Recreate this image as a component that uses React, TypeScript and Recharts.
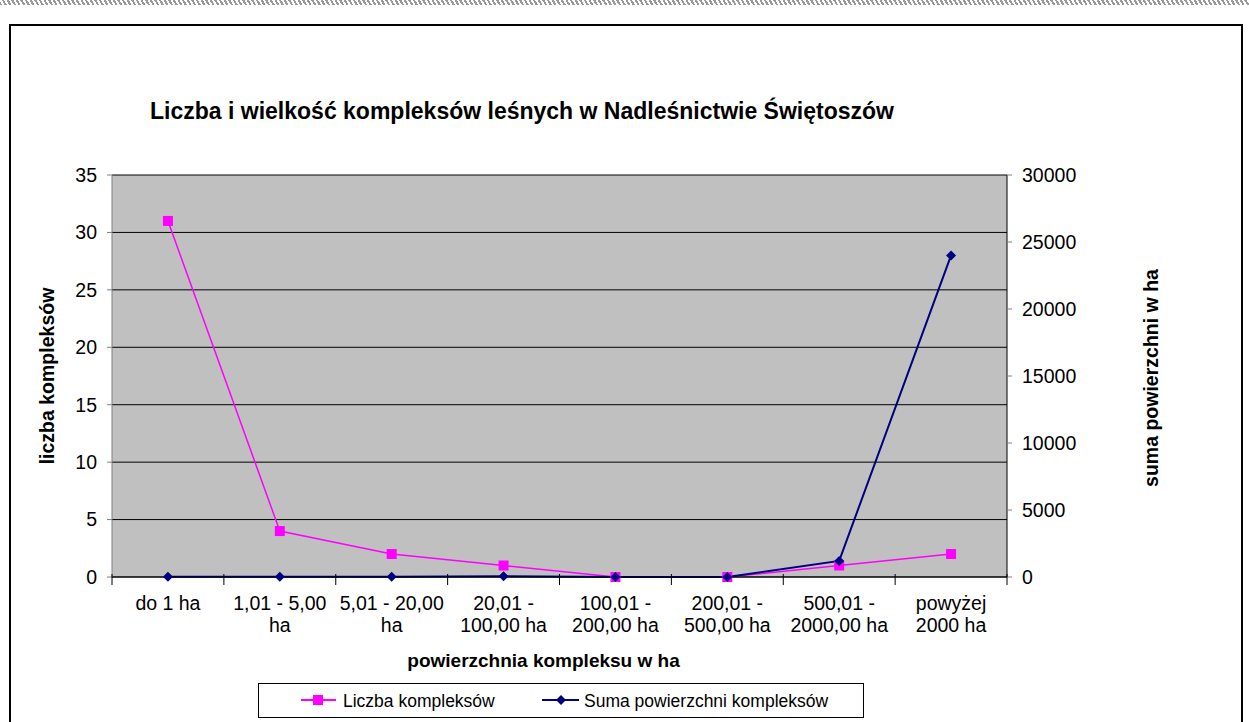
import React from 'react';
import { LineChart, Line, XAxis, YAxis, CartesianGrid } from 'recharts';

// kategorie powierzchni kompleksów
const categories = [
  'do 1 ha',
  '1,01 - 5,00\nha',
  '5,01 - 20,00\nha',
  '20,01 -\n100,00 ha',
  '100,01 -\n200,00 ha',
  '200,01 -\n500,00 ha',
  '500,01 -\n2000,00 ha',
  'powyżej\n2000 ha',
];
const liczbaKompleksow = [31, 4, 2, 1, 0, 0, 1, 2];
const sumaPowierzchni = [15, 10, 25, 50, 0, 0, 1200, 24000];
const leftTicks = [0, 5, 10, 15, 20, 25, 30, 35];
const rightTicks = [0, 5000, 10000, 15000, 20000, 25000, 30000];

const FONT = 'Arial, "Liberation Sans", sans-serif';
const PINK = '#ff00ff';
const NAVY = '#000080';
const BAND = 895 / categories.length;

const data = categories.map((cat, i) => ({
  cat,
  liczba: liczbaKompleksow[i],
  suma: sumaPowierzchni[i],
}));

const SquareDot = (props: any) => {
  const { cx, cy } = props;
  if (cx == null || cy == null) return null;
  return <rect x={cx - 5} y={cy - 5} width={10} height={10} fill={PINK} />;
};

const DiamondDot = (props: any) => {
  const { cx, cy } = props;
  if (cx == null || cy == null) return null;
  return <polygon points={`${cx},${cy - 5} ${cx + 5},${cy} ${cx},${cy + 5} ${cx - 5},${cy}`} fill={NAVY} />;
};

const XTick = (props: any) => {
  const { x, y, payload, index } = props;
  const lines = String(payload.value).split('\n');
  return (
    <g>
      <line x1={x - BAND / 2} y1={y - 5} x2={x - BAND / 2} y2={y + 6} stroke="#000" />
      {index === categories.length - 1 && (
        <line x1={x + BAND / 2} y1={y - 5} x2={x + BAND / 2} y2={y + 6} stroke="#000" />
      )}
      <text x={x} y={y + 31} textAnchor="middle" fontSize={19.5} fontFamily={FONT} fill="#000">
        {lines.map((l, i) => (
          <tspan key={i} x={x} dy={i === 0 ? 0 : 22}>{l}</tspan>
        ))}
      </text>
    </g>
  );
};

const LegendBox = () => (
  <div
    style={{
      position: 'absolute', left: 258, top: 683,
      width: 604, height: 33,
      border: '1px solid #000',
      background: '#fff',
    }}
  >
    <svg width={604} height={33} style={{ position: 'absolute', left: 0, top: 0 }}>
      <line x1={42} y1={16} x2={77} y2={16} stroke={PINK} strokeWidth={2} />
      <rect x={54} y={11} width={10} height={10} fill={PINK} />
      <text x={84} y={23} fontSize={17.5} fontFamily={FONT} fill="#000">Liczba kompleksów</text>
      <line x1={283} y1={16} x2={320} y2={16} stroke={NAVY} strokeWidth={2} />
      <polygon points="302,11 307,16 302,21 297,16" fill={NAVY} />
      <text x={325} y={23} fontSize={17.5} fontFamily={FONT} fill="#000">Suma powierzchni kompleksów</text>
    </svg>
  </div>
);

export default function App() {
  return (
    <div style={{ position: 'absolute', left: 0, top: 0, width: 1249, height: 722, background: '#fff', overflow: 'hidden', fontFamily: FONT }}>
      {/* pasek u góry */}
      <div
        style={{
          position: 'absolute', left: 0, top: 0, width: 1249, height: 5,
          background: 'repeating-linear-gradient(60deg, #999 0px, #999 2px, #fff 2px, #fff 4px)',
        }}
      />
      {/* ramka wykresu */}
      <div style={{ position: 'absolute', left: 9, top: 24, width: 1230, height: 720, border: '2px solid #000' }} />

      <div style={{ position: 'absolute', left: 0, top: 0 }}>
        <LineChart width={1249} height={722} data={data} margin={{ top: 175, right: 182, bottom: 115, left: 52 }}>
          <CartesianGrid yAxisId="left" vertical={false} stroke="#000" fill="#c0c0c0" fillOpacity={1} />
          <XAxis
            dataKey="cat"
            interval={0}
            tick={<XTick />}
            tickLine={false}
            tickSize={0}
            height={30}
            padding={{ left: BAND / 2, right: BAND / 2 }}
            axisLine={{ stroke: '#000' }}
          />
          <YAxis
            yAxisId="left"
            domain={[0, 35]}
            ticks={leftTicks}
            width={60}
            tickSize={5}
            tickMargin={10}
            axisLine={{ stroke: '#808080' }}
            tickLine={{ stroke: '#808080' }}
            tick={{ fontSize: 19.5, fill: '#000', fontFamily: FONT }}
            interval={0}
          />
          <YAxis
            yAxisId="right"
            orientation="right"
            domain={[0, 30000]}
            ticks={rightTicks}
            width={60}
            tickSize={5}
            tickMargin={10}
            axisLine={{ stroke: '#000' }}
            tickLine={{ stroke: '#808080' }}
            tick={{ fontSize: 19.5, fill: '#000', fontFamily: FONT, textAnchor: 'start' }}
            interval={0}
          />
          <Line
            yAxisId="left"
            type="linear"
            dataKey="liczba"
            name="Liczba kompleksów"
            stroke={PINK}
            strokeWidth={1.5}
            dot={<SquareDot />}
            activeDot={false}
            isAnimationActive={false}
          />
          <Line
            yAxisId="right"
            type="linear"
            dataKey="suma"
            name="Suma powierzchni kompleksów"
            stroke={NAVY}
            strokeWidth={2}
            dot={<DiamondDot />}
            activeDot={false}
            isAnimationActive={false}
          />
        </LineChart>
      </div>

      <LegendBox />

      {/* tytuł wykresu */}
      <div style={{ position: 'absolute', left: 0, width: 1044, top: 98, textAlign: 'center', fontSize: 23, fontWeight: 'bold', color: '#000', whiteSpace: 'nowrap' }}>
        Liczba i wielkość kompleksów leśnych w Nadleśnictwie Świętoszów
      </div>
      {/* tytuł osi X */}
      <div style={{ position: 'absolute', left: 0, width: 1087, top: 650, textAlign: 'center', fontSize: 19, fontWeight: 'bold', color: '#000', whiteSpace: 'nowrap' }}>
        powierzchnia kompleksu w ha
      </div>
      {/* tytuł osi lewej */}
      <div style={{ position: 'absolute', left: 47, top: 376, transform: 'translate(-50%, -50%) rotate(-90deg)', fontSize: 19.5, fontWeight: 'bold', color: '#000', whiteSpace: 'nowrap' }}>
        liczba kompleksów
      </div>
      {/* tytuł osi prawej */}
      <div style={{ position: 'absolute', left: 1151, top: 378, transform: 'translate(-50%, -50%) rotate(-90deg)', fontSize: 19.5, fontWeight: 'bold', color: '#000', whiteSpace: 'nowrap' }}>
        suma powierzchni w ha
      </div>
    </div>
  );
}
